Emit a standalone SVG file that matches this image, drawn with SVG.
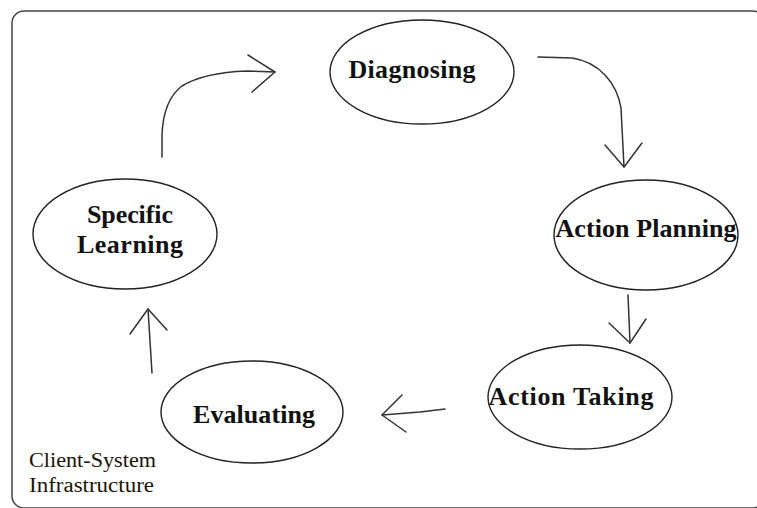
<svg xmlns="http://www.w3.org/2000/svg" width="757" height="508" viewBox="0 0 757 508">
  <style>
    .frame { fill: none; stroke: #444; stroke-width: 1.5; }
    .node ellipse { fill: #fff; stroke: #222; stroke-width: 1.4; }
    .node text { font-family: "Liberation Serif", "Times New Roman", serif; font-weight: bold; font-size: 26px; fill: #111; text-anchor: middle; }
    .edge { fill: none; stroke: #333; stroke-width: 1.5; stroke-linecap: round; stroke-linejoin: round; }
    .caption { font-family: "Liberation Serif", "Times New Roman", serif; font-size: 20px; fill: #1a1408; }
  </style>
  <rect width="757" height="508" fill="#fff"/>

  <!-- outer boundary of the client system -->
  <rect class="frame" x="12" y="11" width="753" height="497" rx="12" ry="12"/>

  <g id="node-diagnosing" class="node">
    <ellipse cx="422" cy="72" rx="92" ry="52"/>
    <text x="412" y="78" textLength="127">Diagnosing</text>
  </g>

  <g id="node-action-planning" class="node">
    <ellipse cx="646" cy="235" rx="92" ry="55"/>
    <text x="646" y="237" textLength="181">Action Planning</text>
  </g>

  <g id="node-action-taking" class="node">
    <ellipse cx="580" cy="397" rx="92" ry="52"/>
    <text x="571" y="405" textLength="165">Action Taking</text>
  </g>

  <g id="node-evaluating" class="node">
    <ellipse cx="252" cy="412" rx="91" ry="51"/>
    <text x="254" y="423" textLength="122">Evaluating</text>
  </g>

  <g id="node-specific-learning" class="node">
    <ellipse cx="125" cy="234" rx="92" ry="55"/>
    <text x="130" y="223" textLength="86">Specific</text>
    <text x="130" y="253" textLength="106">Learning</text>
  </g>

  <g id="connectors">
    <!-- Specific Learning to Diagnosing -->
    <path class="edge" d="M162 157 L162 135 C163 110 170 95 182 86 C198 76 222 72 247 71 L275 72"/>
    <path class="edge" d="M248 55 L275 72 L252 92"/>
    <!-- Diagnosing to Action Planning -->
    <path class="edge" d="M538 57 L572 58 C600 62 617 84 621 108 L624 167"/>
    <path class="edge" d="M605 145 L624 167 L642 143"/>
    <!-- Action Planning to Action Taking -->
    <path class="edge" d="M628 295 L630 343"/>
    <path class="edge" d="M609 323 L630 343 L646 319"/>
    <!-- Action Taking to Evaluating -->
    <path class="edge" d="M445 409 L420 412 L382 415"/>
    <path class="edge" d="M402 395 L382 415 L406 432"/>
    <!-- Evaluating to Specific Learning -->
    <path class="edge" d="M152 373 L148 309"/>
    <path class="edge" d="M130 334 L148 309 L167 330"/>
  </g>

  <text class="caption" x="29" y="467" textLength="127" lengthAdjust="spacingAndGlyphs">Client-System</text>
  <text class="caption" x="29" y="492" textLength="125" lengthAdjust="spacingAndGlyphs">Infrastructure</text>
</svg>
